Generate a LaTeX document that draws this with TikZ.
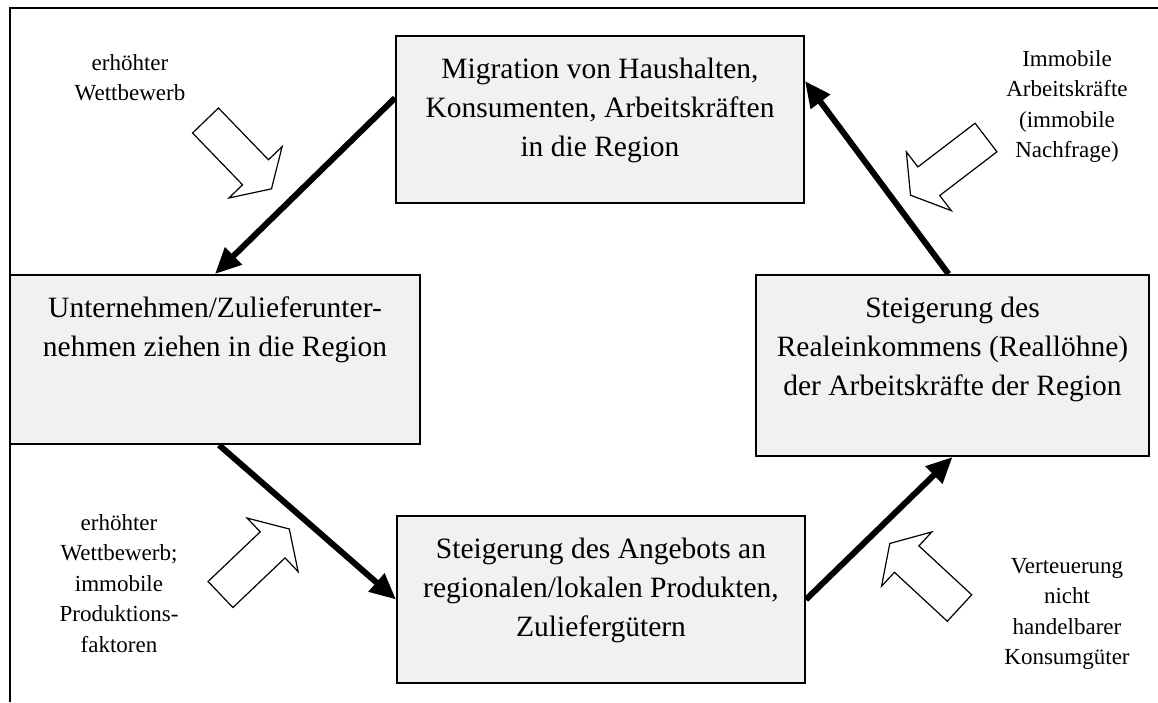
\documentclass[tikz,border=0pt]{standalone}
\usepackage{fontspec}
\setmainfont{Liberation Serif}
\usetikzlibrary{arrows.meta}
\definecolor{boxgray}{HTML}{F1F1F1}
% block arrow: tail centre (#1,#2), direction #3 (degrees)
\newcommand\hollowarrow[3]{%
  \begin{scope}[shift={(#1,#2)}, rotate=#3]
    \draw[hollow] (0,-18) -- (72,-18) -- (72,-37) -- (95,0) -- (72,37) -- (72,18) -- (0,18) -- cycle;
  \end{scope}}
\begin{document}
\begin{tikzpicture}[x=1pt,y=-1pt,
  frame/.style={line width=2pt},
  stage/.style={draw, line width=2pt, fill=boxgray, inner sep=0pt, anchor=north west},
  stagetext/.style={anchor=north, align=center, inner sep=0pt, font=\fontsize{29.5}{39}\selectfont},
  note/.style={anchor=north, align=center, inner sep=0pt, font=\fontsize{23}{30.5}\selectfont},
  flow/.style={line width=6pt, -{Triangle[length=26pt,width=23pt]}},
  hollow/.style={draw, line width=1.2pt, fill=white, line join=miter}]
\useasboundingbox (0,0) rectangle (1158,702);

% frame
\draw[frame] (9.5,702) -- (9.5,7.5) -- (1158,7.5);

% stages of the cycle
\node[stage, minimum width=408pt, minimum height=167pt] (migration) at (395,35) {};
\node[stage, minimum width=410pt, minimum height=169pt] (firms) at (9,274) {};
\node[stage, minimum width=393pt, minimum height=181pt] (income) at (755,274) {};
\node[stage, minimum width=408pt, minimum height=167pt] (supply) at (396,515) {};

\node[stagetext] (migrationtext) at ([yshift=-23pt]migration.north)
  {Migration von Haushalten,\\ Konsumenten, Arbeitskräften\\ in die Region};
\node[stagetext] (firmstext) at ([yshift=-23pt]firms.north)
  {Unternehmen/Zulieferunter-\\ nehmen ziehen in die Region};
\node[stagetext] (incometext) at ([yshift=-23pt]income.north)
  {Steigerung des\\ Realeinkommens (Reallöhne)\\ der Arbeitskräfte der Region};
\node[stagetext] (supplytext) at ([yshift=-23pt]supply.north)
  {Steigerung des Angebots an\\ regionalen/lokalen Produkten,\\ Zuliefergütern};

% cycle connectors
\draw[flow] ([yshift=21.5pt]migration.west) -- (firms.north);
\draw[flow] ([xshift=4pt]firms.south) -- (supply.west);
\draw[flow] (supply.east) -- (income.south);
\draw[flow] ([xshift=-4pt]income.north) -- ([yshift=38.5pt]migration.east);

% influences
\node[note] (comp) at (130,54) {erhöhter\\ Wettbewerb};
\node[note] (immob) at (1067,50) {Immobile\\ Arbeitskräfte\\ (immobile\\ Nachfrage)};
\node[note] (factors) at (119,514) {erhöhter\\ Wettbewerb;\\ immobile\\ Produktions-\\ faktoren};
\node[note] (prices) at (1067,558) {Verteuerung\\ nicht\\ handelbarer\\ Konsumgüter};

\hollowarrow{205.5}{120.5}{-46}
\hollowarrow{986}{137.5}{-142.6}
\hollowarrow{220.5}{594.5}{43.6}
\hollowarrow{959.5}{608}{137.2}
\end{tikzpicture}
\end{document}
